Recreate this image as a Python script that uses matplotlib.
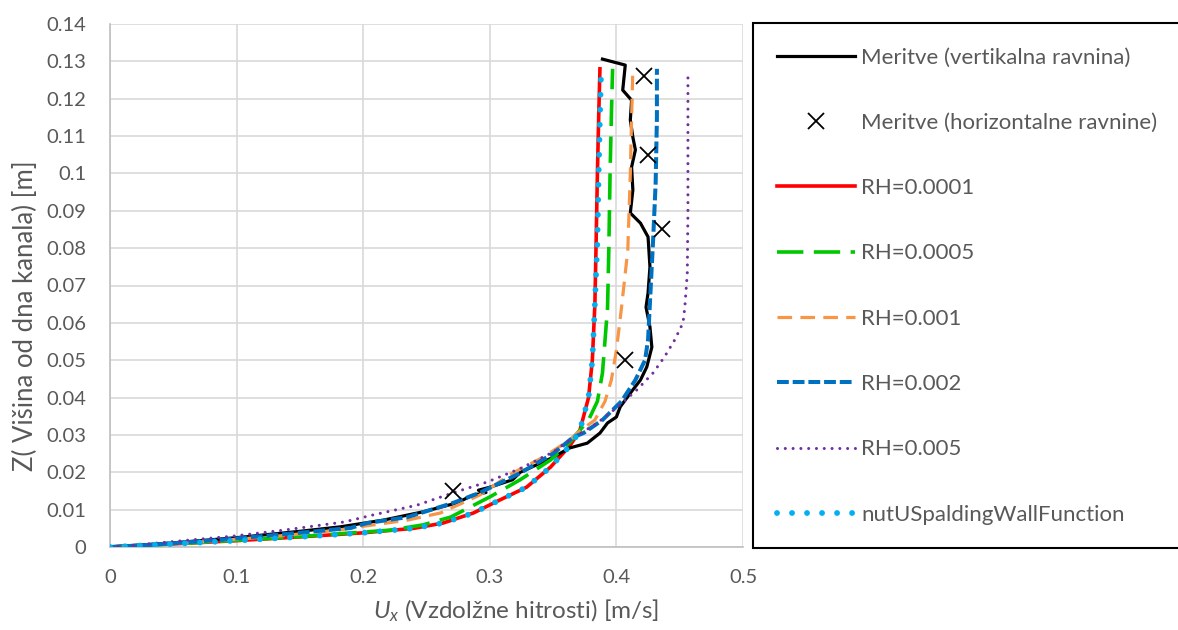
import matplotlib
matplotlib.use("Agg")
import matplotlib.pyplot as plt
from matplotlib.lines import Line2D
from matplotlib.ticker import FuncFormatter

plt.rcParams["font.family"] = ["Lato", "DejaVu Sans"]
plt.rcParams["lines.scale_dashes"] = False
plt.rcParams["mathtext.fontset"] = "custom"
plt.rcParams["mathtext.it"] = "Lato:italic"
plt.rcParams["mathtext.rm"] = "Lato"

# Measured profile in the vertical plane (u [m/s], z [m]), drawn top to bottom
meas_u = [0.389, 0.407, 0.405, 0.412, 0.411, 0.413, 0.415, 0.412, 0.413, 0.411,
          0.419, 0.425, 0.4265, 0.425, 0.4234, 0.4265, 0.428, 0.424, 0.419, 0.411,
          0.403, 0.400, 0.393, 0.387, 0.377, 0.363, 0.350, 0.337, 0.324, 0.318,
          0.300, 0.291, 0.297, 0.286, 0.274, 0.247, 0.216, 0.182, 0.150, 0.100,
          0.050, 0.0]
meas_z = [0.1306, 0.129, 0.1223, 0.1196, 0.1143, 0.1097, 0.1063, 0.1017, 0.0956, 0.0894,
          0.0867, 0.083, 0.075, 0.068, 0.0642, 0.0589, 0.0535, 0.0482, 0.0447, 0.0412,
          0.0375, 0.0348, 0.0332, 0.0305, 0.0278, 0.0265, 0.024, 0.022, 0.020, 0.018,
          0.0160, 0.0152, 0.0146, 0.0138, 0.0118, 0.0094, 0.0072, 0.0054, 0.0042, 0.0025,
          0.0011, 0.0]

# Point measurements in horizontal planes
horiz_u = [0.271, 0.407, 0.436, 0.425, 0.422]
horiz_z = [0.015, 0.050, 0.085, 0.105, 0.126]

# Simulated profiles for different roughness heights
rh0001_u = [0, 0.03, 0.06, 0.10, 0.15, 0.20, 0.24, 0.263, 0.287, 0.308, 0.329,
            0.348, 0.363, 0.371, 0.378, 0.381, 0.383, 0.384, 0.385, 0.386, 0.387]
rh0001_z = [0, 0.0005, 0.001, 0.0017, 0.0027, 0.0038, 0.0050, 0.0064, 0.0091, 0.0126, 0.016,
            0.0214, 0.027, 0.031, 0.040, 0.050, 0.065, 0.082, 0.100, 0.115, 0.128]

rh0005_u = [0, 0.03, 0.06, 0.10, 0.15, 0.20, 0.221, 0.247, 0.269, 0.300, 0.324,
            0.348, 0.363, 0.378, 0.385, 0.389, 0.393, 0.394, 0.395, 0.396, 0.397]
rh0005_z = [0, 0.0005, 0.001, 0.0018, 0.0028, 0.0040, 0.0045, 0.0059, 0.008, 0.0134, 0.018,
            0.0233, 0.028, 0.034, 0.039, 0.0466, 0.064, 0.0795, 0.100, 0.115, 0.128]

rh001_u = [0, 0.03, 0.055, 0.09, 0.135, 0.18, 0.197, 0.235, 0.261, 0.292, 0.318, 0.342,
           0.363, 0.369, 0.383, 0.391, 0.396, 0.400, 0.404, 0.409, 0.411, 0.412, 0.413]
rh001_z = [0, 0.0005, 0.001, 0.0018, 0.003, 0.0045, 0.0054, 0.0072, 0.0091, 0.0139, 0.0198, 0.024,
           0.0286, 0.0305, 0.034, 0.039, 0.0447, 0.0527, 0.064, 0.0795, 0.100, 0.115, 0.128]

rh002_u = [0, 0.028, 0.05, 0.09, 0.14, 0.19, 0.203, 0.235, 0.271, 0.292, 0.324, 0.350,
           0.366, 0.374, 0.389, 0.404, 0.415, 0.4226, 0.425, 0.427, 0.429, 0.431, 0.432, 0.432]
rh002_z = [0, 0.0005, 0.001, 0.002, 0.0035, 0.0051, 0.0064, 0.008, 0.0118, 0.0145, 0.0198, 0.025,
           0.0294, 0.0305, 0.034, 0.039, 0.0447, 0.05, 0.0554, 0.0688, 0.0822, 0.0974, 0.115, 0.128]

rh005_u = [0, 0.02, 0.045, 0.097, 0.137, 0.185, 0.208, 0.2425, 0.271, 0.298, 0.324, 0.35,
           0.363, 0.385, 0.401, 0.416, 0.429, 0.438, 0.446, 0.4526, 0.454, 0.456, 0.4565,
           0.4565, 0.4565]
rh005_z = [0, 0.0005, 0.0013, 0.0029, 0.0045, 0.0067, 0.0086, 0.0112, 0.0145, 0.0174, 0.021,
           0.0254, 0.0286, 0.0332, 0.0375, 0.042, 0.0466, 0.0509, 0.0554, 0.060, 0.064,
           0.0733, 0.090, 0.110, 0.126]

spald_u = [0, 0.03, 0.06, 0.10, 0.15, 0.20, 0.24, 0.263, 0.287, 0.308, 0.329,
           0.348, 0.363, 0.371, 0.378, 0.381, 0.383, 0.385, 0.386, 0.387, 0.388]
spald_z = [0, 0.0005, 0.001, 0.0017, 0.0027, 0.0038, 0.0050, 0.0064, 0.0091, 0.0126, 0.016,
           0.0214, 0.027, 0.031, 0.040, 0.050, 0.065, 0.082, 0.100, 0.115, 0.128]

x_ticks = [0, 0.1, 0.2, 0.3, 0.4, 0.5]
y_ticks = [0, 0.01, 0.02, 0.03, 0.04, 0.05, 0.06, 0.07, 0.08, 0.09, 0.10, 0.11, 0.12, 0.13, 0.14]

GRAY_TXT = "#595959"
W, H = 1178, 630

fig = plt.figure(figsize=(W / 100, H / 100), dpi=100)
ax = fig.add_axes([110 / W, 1 - 547 / H, (743 - 110) / W, (547 - 24) / H])

ax.plot(meas_u, meas_z, color="black", lw=2.3, label="Meritve (vertikalna ravnina)", zorder=3)
ax.plot(horiz_u, horiz_z, ls="none", marker="x", ms=11, mew=1.3, color="black",
        label="Meritve (horizontalne ravnine)", zorder=6)
ax.plot(rh0001_u, rh0001_z, color="#FF0000", lw=2.6, label="RH=0.0001", zorder=2)
ax.plot(rh0005_u, rh0005_z, color="#00C800", lw=2.6, dashes=(19, 7.5),
        label="RH=0.0005", zorder=3)
ax.plot(rh001_u, rh001_z, color="#F79646", lw=2.3, dashes=(10.5, 6),
        label="RH=0.001", zorder=3)
ax.plot(rh002_u, rh002_z, color="#0070C0", lw=2.9, dashes=(8.5, 2.8),
        label="RH=0.002", zorder=4)
ax.plot(rh005_u, rh005_z, color="#7030A0", lw=2.2, dashes=(0.01, 5.6),
        dash_capstyle="round", label="RH=0.005", zorder=4)
ax.plot(spald_u, spald_z, color="#00B0F0", lw=4.2, dashes=(0.01, 10.8),
        dash_capstyle="round", label="nutUSpaldingWallFunction", zorder=5)

ax.set_xlim(0, 0.5)
ax.set_ylim(0, 0.14)
ax.set_xticks(x_ticks)
ax.set_yticks(y_ticks)
fmt = FuncFormatter(lambda v, p: ("%.2f" % v).rstrip("0").rstrip(".") if v != 0 else "0")
ax.xaxis.set_major_formatter(fmt)
ax.yaxis.set_major_formatter(fmt)
ax.grid(True, color="#D9D9D9", lw=1.2)
ax.set_axisbelow(True)
for s in ("top", "right"):
    ax.spines[s].set_visible(False)
for s in ("left", "bottom"):
    ax.spines[s].set_color("#BFBFBF")
    ax.spines[s].set_linewidth(1.2)
ax.tick_params(length=0, labelsize=14.5, labelcolor=GRAY_TXT)
ax.tick_params(axis="x", pad=16)
ax.tick_params(axis="y", pad=17)

ax.set_xlabel(r"$U_x$ (Vzdolžne hitrosti) [m/s]", fontsize=17.5, color=GRAY_TXT)
ax.set_ylabel("Z( Višina od dna kanala) [m]", fontsize=18.5, color=GRAY_TXT)
ax.xaxis.set_label_coords(0.641, -0.0975)
ax.yaxis.set_label_coords(-0.1137, 0.442)

# Legend entries without their own frame; the box is an open outline that
# stops at the right edge of the figure
leg = ax.legend(loc="upper left", bbox_to_anchor=(753 / W, 1 - 23 / H),
                bbox_transform=fig.transFigure, frameon=False,
                fontsize=16, labelcolor=GRAY_TXT, handlelength=3.47, handletextpad=0.3,
                labelspacing=2.04, borderpad=1.1, borderaxespad=0, numpoints=1)
box_x = [1.0, 753 / W, 753 / W, 1.0]
box_y = [1 - 23 / H, 1 - 23 / H, 1 - 548 / H, 1 - 548 / H]
fig.add_artist(Line2D(box_x, box_y, transform=fig.transFigure, color="black",
                      linewidth=1.5, solid_joinstyle="miter", solid_capstyle="butt"))

fig.savefig("out.png", dpi=100)
